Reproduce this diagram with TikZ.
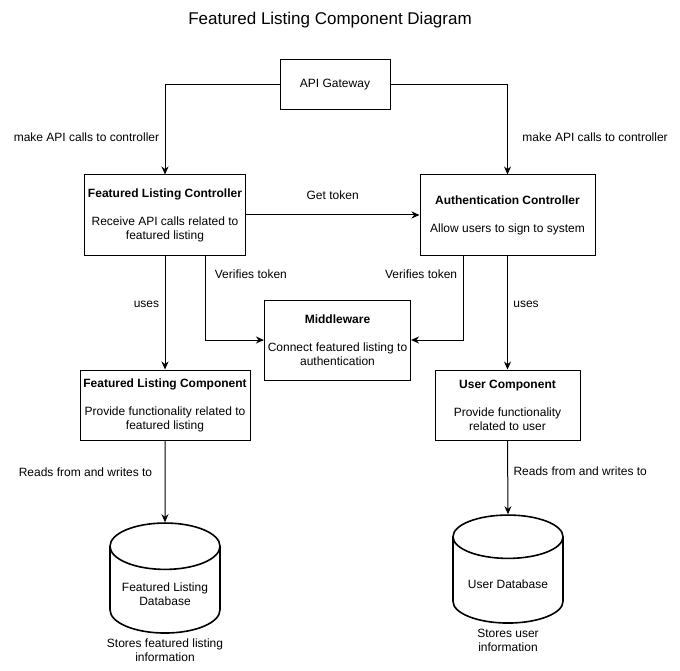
\documentclass[tikz,border=0pt]{standalone}
\usepackage{fontspec}
\setmainfont{Liberation Sans}
\usetikzlibrary{shapes.geometric,arrows.meta}

\tikzstyle{component}=[shape=rectangle,draw=black,line width=1pt,fill=white,align=center,font=\fontsize{12}{14}\selectfont]
\tikzstyle{database}=[shape=cylinder,shape border rotate=90,aspect=0.5,draw=black,line width=1.6pt,align=center,font=\fontsize{12}{14}\selectfont]
\tikzstyle{link}=[-{Stealth[length=8pt,width=7pt]},line width=1pt]
\tikzstyle{note}=[align=center,font=\fontsize{12}{14}\selectfont]

\begin{document}
\begin{tikzpicture}[x=1pt,y=-1pt]
\useasboundingbox (0,0) rectangle (680,671);
\node[font=\fontsize{17}{20}\selectfont] (title) at (330,20) {Featured Listing Component Diagram};
% controllers
\node[component,minimum width=110pt,minimum height=50pt] (gateway) at (335,85) {API Gateway};
\node[component,minimum width=160pt,minimum height=80pt] (flctrl) at (165,215)
    {\textbf{Featured Listing Controller}\\[14pt]Receive API calls related to\\featured listing};
\node[component,minimum width=175pt,minimum height=80pt] (authctrl) at (507.5,215)
    {\textbf{Authentication Controller}\\[14pt]Allow users to sign to system};
\node[component,minimum width=145pt,minimum height=80pt] (middle) at (337.5,340)
    {\textbf{Middleware}\\[14pt]Connect featured listing to\\authentication};
% components
\node[component,minimum width=170pt,minimum height=70pt] (flcomp) at (165,405)
    {\textbf{Featured Listing Component}\\[14pt]Provide functionality related to\\featured listing};
\node[component,minimum width=145pt,minimum height=70pt] (usercomp) at (507.5,405)
    {\textbf{User Component}\\[14pt]Provide functionality\\related to user};
% databases
\node[database,minimum width=110pt,minimum height=110pt] (fldb) at (165,594) {Featured Listing\\Database};
\node[database,minimum width=110pt,minimum height=108pt] (userdb) at (508,584) {User Database};
\node[note] (fldbnote) at (165,650) {Stores featured listing\\information};
\node[note] (userdbnote) at (508,640) {Stores user\\information};

% connectors
\draw[link] (gateway.west) -| (flctrl.north)
    node[note,pos=0.79,left=2pt] (callsleft) {make API calls to controller};
\draw[link] (gateway.east) -| (authctrl.north)
    node[note,pos=0.79,right=11pt] (callsright) {make API calls to controller};
\draw[link] (flctrl.east) -- (authctrl.west)
    node[note,midway,above=12pt] (gettoken) {Get token};
\draw[link] ([xshift=40pt]flctrl.south) |- (middle.west)
    node[note,pos=0.11,right=6pt] (verifyleft) {Verifies token};
\draw[link] ([xshift=-44.5pt]authctrl.south) |- (middle.east)
    node[note,pos=0.11,left=2pt] (verifyright) {Verifies token};
\draw[link] (flctrl.south) -- (flcomp.north)
    node[note,pos=0.43,left=2pt] (usesleft) {uses};
\draw[link] (authctrl.south) -- (usercomp.north)
    node[note,pos=0.43,right=2pt] (usesright) {uses};
\draw[link] (flcomp.south) -- (fldb.north)
    node[note,pos=0.39,left=9pt] (rwleft) {Reads from and writes to};
\draw[link] (usercomp.south) -- (userdb.north)
    node[note,pos=0.42,right=2pt] (rwright) {Reads from and writes to};
\end{tikzpicture}
\end{document}
